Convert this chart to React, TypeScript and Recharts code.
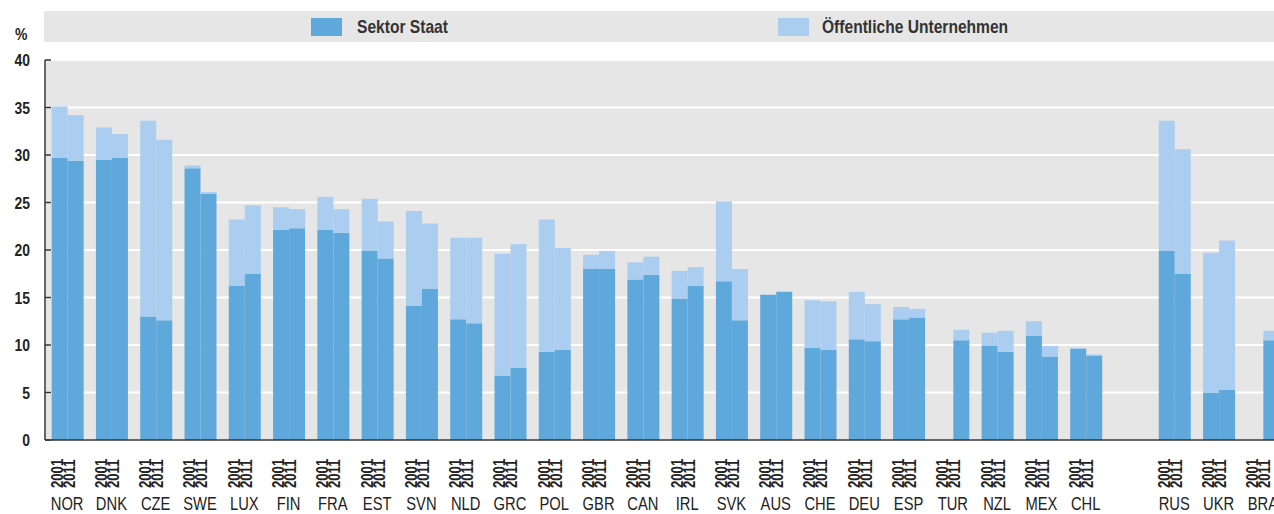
import React from 'react';
import { BarChart, Bar, XAxis, YAxis, CartesianGrid } from 'recharts';

const countries = ['NOR', 'DNK', 'CZE', 'SWE', 'LUX', 'FIN', 'FRA', 'EST', 'SVN', 'NLD', 'GRC', 'POL', 'GBR', 'CAN', 'IRL', 'SVK', 'AUS', 'CHE', 'DEU', 'ESP', 'TUR', 'NZL', 'MEX', 'CHL', '', 'RUS', 'UKR', 'BRA'];
const staat2001 = [29.7, 29.5, 13.0, 28.6, 16.2, 22.1, 22.1, 19.9, 14.1, 12.7, 6.8, 9.3, 18.0, 16.9, 14.9, 16.7, 15.3, 9.7, 10.6, 12.7, null, 9.9, 11.0, 9.6, null, 19.9, 5.0, null];
const oeffentlich2001 = [5.4, 3.4, 20.6, 0.3, 7.0, 2.4, 3.5, 5.5, 10.0, 8.6, 12.8, 13.9, 1.5, 1.8, 2.9, 8.4, 0, 5.0, 5.0, 1.3, null, 1.4, 1.5, 0.1, null, 13.7, 14.7, null];
const staat2011 = [29.4, 29.7, 12.6, 25.9, 17.5, 22.3, 21.8, 19.1, 15.9, 12.3, 7.6, 9.5, 18.0, 17.4, 16.2, 12.6, 15.6, 9.5, 10.4, 12.9, 10.5, 9.3, 8.8, 8.9, null, 17.5, 5.3, 10.5];
const oeffentlich2011 = [4.8, 2.5, 19.0, 0.2, 7.2, 2.0, 2.5, 3.9, 6.9, 9.0, 13.0, 10.7, 1.9, 1.9, 2.0, 5.4, 0, 5.1, 3.9, 0.9, 1.1, 2.2, 1.1, 0.1, null, 13.1, 15.7, 1.0];
const yearLabels = ['2001', '2011'];
const yTicks = [0, 5, 10, 15, 20, 25, 30, 35, 40];
const legendLabels = ['Sektor Staat', 'Öffentliche Unternehmen'];

const DARK = '#5fa8db';
const LIGHT = '#abcdef';
const BG = '#e6e6e6';
const TEXT = '#222222';
const FONT = '"Liberation Sans", Arial, sans-serif';
const NARROW = 0.82;

const data = countries.map((c, i) => ({
  country: c,
  s01: staat2001[i],
  o01: oeffentlich2001[i],
  s11: staat2011[i],
  o11: oeffentlich2011[i],
}));

const boundaryTicks = countries.map((_, i) => i).concat([countries.length]);

const CountryTick = (props: any) => {
  const { x, y, payload } = props;
  const name = payload && payload.value;
  if (!name) return <g />;
  return (
    <g fontFamily={FONT} fill={TEXT}>
      <text
        transform={`translate(${x - 10},${y + 48}) rotate(-90) scale(${NARROW},1)`}
        textAnchor="start"
        dominantBaseline="central"
        fontSize={16}
        fontWeight="bold"
        fill={TEXT}
      >
        {yearLabels[0]}
      </text>
      <text
        transform={`translate(${x + 2},${y + 48}) rotate(-90) scale(${NARROW},1)`}
        textAnchor="start"
        dominantBaseline="central"
        fontSize={16}
        fontWeight="bold"
        fill={TEXT}
      >
        {yearLabels[1]}
      </text>
      <text
        transform={`translate(${x},${y + 70}) scale(${NARROW},1)`}
        textAnchor="middle"
        fontSize={18}
        fill={TEXT}
      >
        {name}
      </text>
    </g>
  );
};

const ValueTick = (props: any) => {
  const { x, y, payload } = props;
  return (
    <text
      transform={`translate(${x},${y}) scale(${NARROW},1)`}
      textAnchor="end"
      dominantBaseline="central"
      fontSize={17}
      fontWeight="bold"
      fontFamily={FONT}
      fill={TEXT}
    >
      {payload.value}
    </text>
  );
};

const legendText: React.CSSProperties = {
  position: 'absolute',
  top: 16,
  fontSize: 19,
  fontWeight: 'bold',
  color: '#333',
  lineHeight: '22px',
  whiteSpace: 'nowrap',
  transform: `scaleX(${NARROW})`,
  transformOrigin: 'left center',
};

export default function App() {
  return (
    <div
      style={{
        position: 'fixed',
        left: 0,
        top: 0,
        width: 1274,
        height: 514,
        overflow: 'hidden',
        background: '#fff',
        fontFamily: FONT,
      }}
    >
      <div
        style={{
          position: 'absolute',
          left: 44,
          top: 11,
          width: 1240,
          height: 31,
          background: BG,
        }}
      />
      <div style={{ position: 'absolute', left: 311, top: 18, width: 31, height: 18, background: DARK }} />
      <div style={{ ...legendText, left: 357 }}>{legendLabels[0]}</div>
      <div style={{ position: 'absolute', left: 778, top: 18, width: 31, height: 18, background: LIGHT }} />
      <div style={{ ...legendText, left: 822 }}>{legendLabels[1]}</div>
      <div
        style={{
          position: 'absolute',
          left: 15,
          top: 25,
          fontSize: 17,
          fontWeight: 'bold',
          color: TEXT,
          lineHeight: '20px',
          transform: `scaleX(${NARROW})`,
          transformOrigin: 'left center',
        }}
      >
        %
      </div>
      <div style={{ position: 'absolute', left: 0, top: 0 }}>
        <BarChart
          width={1290}
          height={514}
          data={data}
          margin={{ top: 60, right: 5, left: 0, bottom: 0 }}
          barCategoryGap="15%"
          barGap={0}
        >
          <CartesianGrid
            xAxisId="grid"
            fill={BG}
            stroke="#ffffff"
            strokeWidth={2}
          />
          <XAxis
            xAxisId="grid"
            type="number"
            domain={[0, countries.length]}
            ticks={boundaryTicks}
            tick={false}
            axisLine={false}
            tickLine={{ stroke: '#333', strokeWidth: 1.5 }}
            tickSize={-6}
            height={0}
            allowDataOverflow
          />
          <XAxis
            dataKey="country"
            interval={0}
            tick={<CountryTick />}
            tickLine={false}
            tickSize={0}
            tickMargin={0}
            axisLine={{ stroke: '#333', strokeWidth: 1.5 }}
            height={74}
          />
          <YAxis
            domain={[0, 40]}
            ticks={yTicks}
            width={45}
            tickSize={-6}
            tickMargin={21}
            tickLine={{ stroke: '#333', strokeWidth: 1.5 }}
            axisLine={{ stroke: '#333', strokeWidth: 1.5 }}
            tick={<ValueTick />}
            allowDataOverflow
          />
          <Bar dataKey="s01" stackId="y2001" fill={DARK} isAnimationActive={false} />
          <Bar dataKey="o01" stackId="y2001" fill={LIGHT} isAnimationActive={false} />
          <Bar dataKey="s11" stackId="y2011" fill={DARK} isAnimationActive={false} />
          <Bar dataKey="o11" stackId="y2011" fill={LIGHT} isAnimationActive={false} />
        </BarChart>
      </div>
    </div>
  );
}
